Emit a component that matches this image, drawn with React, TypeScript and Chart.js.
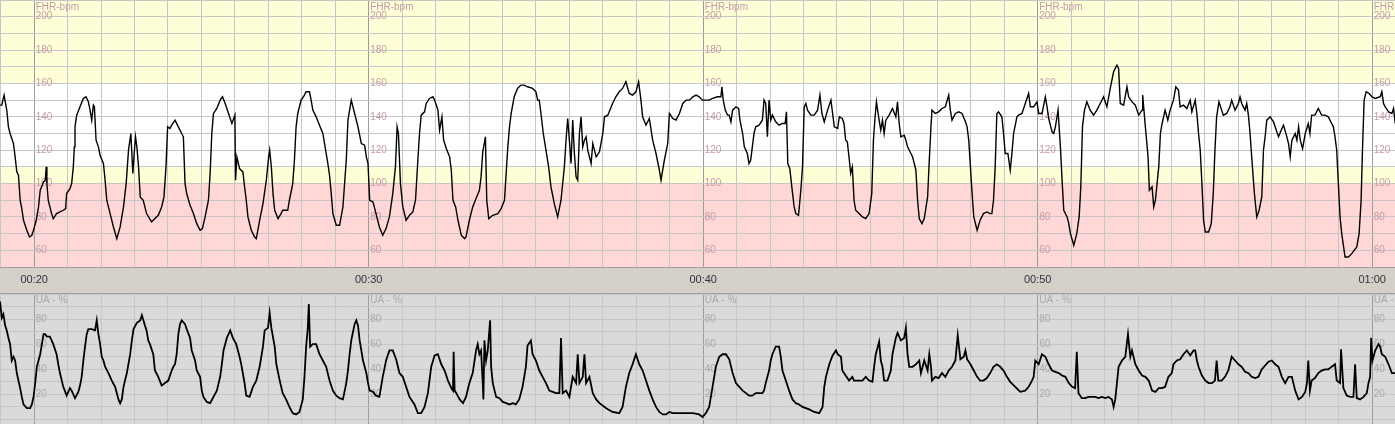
import React, { useEffect, useRef } from 'react';
import { Chart, registerables } from 'chart.js';

Chart.register(...registerables);

// ---- time axis (minutes) ----
const X_MIN = 18.978;
const X_MAX = 60.683;
const MAJOR_TIMES = [20, 30, 40, 50, 60];

// ---- tick labels ----
const FHR_TICKS = [200, 180, 160, 140, 120, 100, 80, 60];
const UA_TICKS = [80, 60, 40, 20];
const FHR_TITLE = 'FHR-bpm';
const UA_TITLE = 'UA - %';

// ---- FHR zones (bpm) ----
const ZONE_FROM = [160, 110, 100, 50];
const ZONE_TO = [210, 160, 110, 100];
const ZONE_COLORS = ['#ffffd7', '#ffffff', '#ffffd7', '#ffd7d7'];

// ---- fetal heart rate: [minute, bpm] ----
const FHR_SAMPLES: [number, number][] = [
  [18.98,147],[19.03,147],[19.10,153],[19.18,144],[19.23,134],[19.28,130],[19.38,124],[19.43,116],[19.48,107],[19.53,105],
  [19.58,90],[19.63,85],[19.68,78],[19.78,72],[19.86,68],[19.93,69],[19.98,72],[20.06,78],[20.13,86],[20.18,96],
  [20.28,101],[20.33,102],[20.36,110],[20.38,100],[20.42,90],[20.52,82],[20.57,79],[20.67,82],[20.77,83],[20.87,84],
  [20.94,85],[20.97,94],[21.07,97],[21.12,100],[21.17,110],[21.20,122],[21.22,134],[21.27,141],[21.37,146],[21.47,151],
  [21.55,152],[21.62,149],[21.67,144],[21.72,138],[21.77,147],[21.80,146],[21.85,126],[21.92,122],[21.97,117],[22.07,112],
  [22.12,102],[22.17,90],[22.27,82],[22.37,74],[22.47,67],[22.57,74],[22.67,86],[22.75,100],[22.82,120],[22.89,130],
  [22.95,106],[22.99,118],[23.03,128],[23.07,122],[23.12,110],[23.17,92],[23.26,90],[23.36,82],[23.51,77],[23.61,79],
  [23.71,81],[23.81,86],[23.88,92],[23.94,110],[23.99,134],[24.06,133],[24.11,135],[24.21,138],[24.31,134],[24.41,130],
  [24.46,128],[24.51,100],[24.56,94],[24.66,87],[24.76,82],[24.86,76],[24.96,72],[25.03,73],[25.11,80],[25.21,90],
  [25.26,106],[25.31,130],[25.36,142],[25.46,145],[25.56,150],[25.63,152],[25.71,148],[25.81,142],[25.91,136],
  [26.00,141],[26.02,102],[26.06,116],[26.14,109],[26.24,107],[26.29,98],[26.34,90],[26.39,80],[26.49,72],[26.59,68],
  [26.64,67],[26.74,78],[26.84,88],[26.94,102],[27.01,116],[27.04,120],[27.09,110],[27.14,94],[27.19,84],[27.29,79],
  [27.38,82],[27.43,84],[27.58,84],[27.63,90],[27.73,100],[27.78,114],[27.83,134],[27.88,142],[27.98,150],[28.08,153],
  [28.13,155],[28.23,155],[28.28,150],[28.33,144],[28.43,140],[28.53,135],[28.63,130],[28.73,118],[28.78,112],[28.83,105],
  [28.88,94],[28.93,82],[29.03,75],[29.13,75],[29.23,86],[29.33,114],[29.38,138],[29.48,150],[29.58,142],[29.68,134],
  [29.78,124],[29.88,123],[29.93,116],[29.98,112],[30.03,90],[30.13,89],[30.22,82],[30.32,74],[30.42,69],[30.52,73],
  [30.62,80],[30.72,94],[30.80,110],[30.85,134],[30.89,130],[30.95,100],[31.02,86],[31.12,78],[31.22,81],[31.32,83],
  [31.40,90],[31.47,114],[31.52,130],[31.57,141],[31.67,143],[31.72,148],[31.82,151],[31.92,152],[31.97,150],[32.07,144],
  [32.12,132],[32.19,140],[32.24,126],[32.32,121],[32.42,116],[32.47,108],[32.52,90],[32.60,86],[32.67,78],[32.77,69],
  [32.87,67],
  [32.91,68],[33.01,78],[33.11,86],[33.21,91],[33.31,96],[33.36,104],[33.41,119],[33.49,128],[33.53,90],[33.59,79],
  [33.71,81],[33.86,82],[33.96,85],[34.06,90],[34.11,106],[34.16,122],[34.21,134],[34.26,142],[34.35,152],[34.45,157],
  [34.55,159],[34.65,159],[34.75,158],[34.90,157],[35.00,155],[35.05,150],[35.10,150],[35.15,142],[35.22,130],[35.30,120],
  [35.38,110],[35.45,98],[35.55,88],[35.65,80],[35.75,90],[35.85,110],[35.90,126],[35.95,139],[36.00,126],[36.05,112],
  [36.10,138],[36.15,118],[36.20,104],[36.25,102],[36.30,130],[36.35,140],[36.40,122],[36.45,126],[36.50,128],[36.55,120],
  [36.65,112],[36.70,124],[36.80,116],[36.90,119],[37.00,130],[37.05,140],[37.15,141],[37.29,148],[37.39,152],[37.49,155],
  [37.59,157],[37.69,161],[37.79,154],[37.89,153],[37.99,155],[38.07,161],[38.14,150],[38.19,140],[38.29,135],[38.39,139],
  [38.49,126],[38.59,118],[38.69,108],[38.74,102],[38.84,114],[38.94,124],[38.99,142],[39.09,139],[39.19,138],[39.29,142],
  [39.39,148],[39.49,150],[39.59,150],[39.69,152],[39.79,153],
  [39.88,152],[39.98,150],[40.08,150],[40.18,150],[40.28,151],[40.43,152],[40.53,152],[40.56,158],[40.60,150],[40.66,144],
  [40.73,141],[40.78,141],[40.83,137],[40.88,144],[40.98,146],[41.06,145],[41.10,138],[41.18,130],[41.23,122],[41.32,118],
  [41.37,112],[41.42,114],[41.47,122],[41.52,130],[41.57,134],[41.67,135],[41.77,138],[41.82,150],[41.87,148],[41.92,128],
  [41.97,150],[42.02,138],[42.07,141],[42.17,137],[42.27,135],[42.37,136],[42.45,136],[42.49,143],[42.53,112],[42.59,109],
  [42.65,98],[42.72,86],[42.77,82],[42.85,81],[42.92,96],[42.97,110],[43.02,146],[43.07,148],[43.12,144],[43.22,141],
  [43.32,141],[43.42,144],[43.49,153],[43.55,142],[43.62,137],[43.72,144],[43.82,150],[43.87,142],[43.92,134],[44.02,133],
  [44.07,140],[44.16,139],[44.21,136],[44.26,126],[44.31,125],[44.36,116],[44.41,106],[44.46,110],[44.51,90],[44.56,84],
  [44.66,82],[44.76,80],[44.86,79],[44.96,82],[45.04,94],[45.09,126],[45.14,140],[45.18,149],[45.26,138],[45.31,132],
  [45.36,138],[45.41,130],[45.46,138],[45.56,141],[45.66,145],[45.76,140],[45.81,149],[45.86,136],[45.91,128],[46.01,129],
  [46.06,126],[46.11,122],[46.21,118],[46.26,116],[46.36,108],[46.41,90],[46.46,79],[46.54,76],[46.61,79],[46.71,92],
  [46.76,114],[46.81,134],
  [46.84,144],[46.94,142],[47.04,143],[47.14,145],[47.24,146],[47.34,153],[47.39,144],[47.44,138],[47.54,142],[47.64,143],
  [47.74,142],[47.84,137],[47.89,134],[47.94,126],[47.99,110],[48.04,94],[48.09,80],[48.19,72],[48.28,78],[48.38,82],
  [48.48,83],[48.58,82],[48.63,82],[48.68,90],[48.73,110],[48.78,142],[48.83,143],[48.93,140],[48.98,130],[49.03,118],
  [49.11,118],[49.18,108],[49.23,118],[49.28,130],[49.38,140],[49.43,141],[49.53,142],[49.63,148],[49.73,154],[49.78,146],
  [49.88,146],[49.98,149],[50.03,142],[50.13,142],[50.23,152],[50.28,146],[50.33,139],[50.43,131],[50.48,130],[50.53,134],
  [50.61,144],[50.68,122],[50.73,102],[50.78,84],[50.88,80],[50.93,76],[50.98,70],[51.08,63],[51.17,70],[51.24,80],
  [51.29,98],[51.34,134],[51.40,144],[51.47,149],[51.57,144],[51.67,141],[51.77,144],[51.87,148],[51.97,152],[52.07,146],
  [52.17,157],[52.27,167],[52.37,171],[52.42,169],[52.47,148],[52.57,147],[52.67,158],[52.72,152],[52.82,149],[52.92,147],
  [53.02,141],[53.12,144],[53.14,153],[53.22,134],[53.30,116],[53.34,96],[53.42,98],[53.47,86],[53.52,90],[53.62,110],
  [53.67,130],[53.72,136],
  [53.81,144],[53.89,138],[53.96,144],[54.06,150],[54.13,158],[54.21,156],[54.26,146],[54.36,147],[54.46,145],[54.56,150],
  [54.61,143],[54.71,150],[54.76,142],[54.81,130],[54.86,120],[54.91,100],[54.96,78],[55.01,71],[55.11,71],[55.19,76],
  [55.25,94],[55.30,120],[55.35,140],[55.42,149],[55.50,144],[55.55,141],[55.65,142],[55.75,146],[55.80,150],[55.90,144],
  [56.00,148],[56.05,152],[56.10,148],[56.20,144],[56.25,148],[56.30,141],[56.35,130],[56.42,110],[56.48,94],[56.55,80],
  [56.62,84],[56.70,92],[56.75,120],[56.80,128],[56.85,138],[56.95,140],[57.05,137],[57.10,134],[57.20,128],[57.28,132],
  [57.35,135],[57.45,128],[57.50,124],[57.55,116],[57.60,126],[57.70,130],[57.75,126],[57.80,134],[57.85,126],[57.92,121],
  [58.00,130],[58.09,136],[58.14,130],[58.19,141],[58.29,141],[58.39,145],[58.49,141],[58.59,141],[58.69,140],[58.79,136],
  [58.84,134],[58.89,128],[58.94,120],[58.99,100],[59.04,80],[59.09,70],[59.19,56],[59.29,56],[59.39,58],[59.54,62],
  [59.61,70],[59.67,90],[59.71,120],[59.76,150],[59.82,155],[59.91,154],[59.99,152],[60.09,151],[60.24,152],[60.29,155],
  [60.34,148],[60.39,146],[60.49,143],[60.59,142],[60.64,145],[60.69,136],
];

// ---- uterine activity: [minute, %] ----
const UA_SAMPLES: [number, number][] = [
  [18.98,94],[19.03,81],[19.08,84],[19.13,75],[19.18,71],[19.23,65],[19.28,60],[19.33,47],[19.38,50],[19.43,47],
  [19.48,37],[19.53,31],[19.58,25],[19.63,18],[19.68,12],[19.78,9],[19.88,9],[19.93,12],[19.98,18],[20.03,29],
  [20.08,42],[20.18,52],[20.23,60],[20.28,68],[20.33,68],[20.38,66],[20.47,66],[20.57,60],[20.67,52],[20.72,44],
  [20.77,37],[20.87,26],[20.97,19],[21.02,22],[21.07,25],[21.12,23],[21.22,17],[21.32,22],[21.37,27],[21.42,34],
  [21.47,47],[21.52,58],[21.57,68],[21.62,72],[21.72,72],[21.82,71],[21.87,79],[21.92,68],[21.97,60],[22.02,50],
  [22.07,47],[22.12,42],[22.22,37],[22.32,31],[22.42,26],[22.52,16],[22.57,13],[22.62,16],[22.67,26],[22.77,37],
  [22.87,52],[22.92,63],[22.97,72],[23.07,77],[23.17,79],[23.22,83],[23.31,75],[23.36,71],[23.41,63],[23.46,60],
  [23.56,52],[23.61,39],[23.71,34],[23.81,27],[23.91,29],[24.01,31],[24.11,39],[24.16,42],[24.21,44],[24.26,52],
  [24.31,68],[24.36,76],[24.41,79],[24.51,76],[24.56,72],[24.66,65],[24.71,55],[24.81,47],[24.86,39],[24.96,34],
  [25.01,23],[25.06,18],[25.16,14],[25.26,13],[25.36,18],[25.46,23],[25.56,34],[25.61,44],[25.66,55],[25.76,65],
  [25.86,71],
  [25.94,65],[26.04,60],[26.14,50],[26.19,44],[26.29,29],[26.34,19],[26.44,18],[26.54,26],[26.64,31],[26.74,42],
  [26.84,58],[26.89,71],[26.99,73],[27.04,85],[27.09,73],[27.19,58],[27.24,44],[27.34,31],[27.43,21],[27.53,16],
  [27.63,10],[27.73,5],[27.83,4],[27.93,6],[28.03,16],[28.08,34],[28.13,58],[28.18,73],[28.21,92],[28.25,58],
  [28.33,60],[28.43,60],[28.53,52],[28.63,47],[28.73,42],[28.83,31],[28.93,23],[29.03,19],[29.13,17],[29.23,16],
  [29.33,29],[29.38,39],[29.43,52],[29.48,63],[29.58,76],[29.63,79],[29.68,75],[29.73,63],[29.83,47],[29.93,37],
  [29.98,29],[30.03,23],[30.13,22],[30.22,19],[30.32,18],[30.42,34],[30.52,47],[30.62,55],[30.72,55],[30.82,48],
  [30.92,37],[31.02,34],[31.12,26],[31.22,18],[31.37,12],[31.47,5],[31.57,5],[31.67,10],[31.77,21],[31.87,42],
  [31.97,51],[32.07,52],[32.17,44],[32.27,39],[32.37,31],[32.47,25],[32.52,23],[32.54,54],[32.57,23],[32.62,21],
  [32.72,16],[32.82,13],
  [32.91,18],[33.01,29],[33.11,37],[33.21,55],[33.26,60],[33.31,52],[33.36,55],[33.41,29],[33.43,16],[33.46,63],
  [33.51,47],[33.56,55],[33.63,79],[33.66,42],[33.71,29],[33.81,18],[33.91,17],[34.01,14],[34.11,13],[34.21,12],
  [34.31,13],[34.40,12],[34.50,16],[34.60,26],[34.70,42],[34.75,59],[34.85,63],[34.90,52],[35.00,47],[35.10,39],
  [35.20,34],[35.30,29],[35.40,23],[35.50,22],[35.60,21],[35.70,21],[35.75,65],[35.80,21],[35.90,23],[36.00,18],
  [36.10,34],[36.20,29],[36.25,52],[36.30,29],[36.40,34],[36.45,52],[36.50,29],[36.60,34],[36.70,21],[36.80,16],
  [36.90,13],[37.10,9],[37.29,6],[37.49,5],[37.59,10],[37.69,26],[37.79,37],[37.89,44],[37.99,52],[38.09,44],
  [38.19,39],[38.29,31],[38.39,23],[38.49,16],[38.59,10],[38.69,6],[38.79,4],[38.89,4],[38.99,6],[39.09,5],
  [39.29,5],[39.49,5],[39.69,5],
  [39.88,4],[39.98,2],[40.08,5],[40.18,10],[40.28,26],[40.38,42],[40.48,50],[40.58,52],[40.68,52],[40.78,48],
  [40.88,37],[40.98,29],[41.08,26],[41.18,23],[41.28,21],[41.37,19],[41.47,19],[41.57,21],[41.67,21],[41.77,21],
  [41.82,23],[41.87,29],[41.97,39],[42.02,47],[42.07,52],[42.17,58],[42.27,58],[42.32,50],[42.37,39],[42.47,31],
  [42.57,23],[42.67,16],[42.77,13],[42.87,12],[42.97,10],[43.07,9],[43.17,8],[43.32,6],[43.47,5],[43.57,10],
  [43.62,26],[43.67,34],[43.77,44],[43.87,51],[43.97,55],[44.02,52],[44.12,50],[44.16,39],[44.26,35],[44.36,31],
  [44.46,34],[44.51,31],[44.61,31],[44.76,31],[44.86,34],[44.96,31],[45.06,30],[45.11,42],[45.16,52],[45.26,62],
  [45.31,47],[45.36,42],[45.41,31],[45.51,31],[45.61,39],[45.66,52],[45.76,65],[45.81,69],[45.91,63],[46.01,65],
  [46.06,73],[46.11,52],[46.16,42],[46.26,42],[46.36,44],[46.46,47],[46.51,37],[46.61,47],[46.71,39],[46.76,52],
  [46.81,42],
  [46.84,31],[46.94,34],[47.04,33],[47.14,37],[47.24,34],[47.34,39],[47.44,42],[47.54,47],[47.61,67],[47.69,48],
  [47.79,50],[47.84,55],[47.89,48],[47.99,44],[48.09,39],[48.19,34],[48.28,31],[48.38,31],[48.48,33],[48.58,37],
  [48.68,42],[48.78,44],[48.88,42],[48.98,39],[49.08,34],[49.18,30],[49.33,26],[49.48,22],[49.63,23],[49.73,26],
  [49.83,31],[49.88,34],[49.93,47],[50.03,44],[50.13,52],[50.23,50],[50.33,44],[50.43,39],[50.53,38],[50.63,37],
  [50.73,35],[50.83,34],[50.93,29],[51.03,26],[51.12,25],[51.17,54],[51.22,21],[51.32,17],[51.42,17],[51.52,18],
  [51.62,18],[51.72,18],[51.82,17],[51.92,18],[52.02,17],[52.12,18],[52.22,16],[52.27,10],[52.32,16],[52.37,29],
  [52.42,42],[52.52,47],[52.62,50],[52.70,68],[52.77,50],[52.82,55],[52.92,44],[53.02,39],[53.12,35],[53.22,34],
  [53.32,31],[53.42,23],[53.52,22],[53.62,25],[53.72,25],
  [53.81,26],[53.91,34],[54.01,37],[54.06,44],[54.16,47],[54.26,48],[54.36,52],[54.46,55],[54.56,51],[54.66,55],
  [54.71,55],[54.76,47],[54.81,42],[54.91,35],[55.01,31],[55.11,29],[55.21,29],[55.30,31],[55.35,47],[55.40,31],
  [55.50,31],[55.60,34],[55.70,39],[55.80,50],[55.90,47],[56.00,44],[56.10,42],[56.20,38],[56.30,37],[56.40,34],
  [56.50,33],[56.60,34],[56.70,40],[56.80,43],[56.90,46],[57.00,47],[57.10,44],[57.20,42],[57.30,34],[57.40,29],
  [57.50,34],[57.60,34],[57.70,23],[57.80,16],[57.90,18],[58.00,22],[58.05,29],[58.09,47],[58.14,23],[58.19,31],
  [58.29,33],[58.39,37],[58.49,39],[58.59,40],[58.69,40],[58.79,42],[58.89,44],[58.94,31],[59.04,29],[59.07,56],
  [59.14,25],[59.24,19],[59.34,18],[59.44,18],[59.49,44],[59.54,17],[59.64,16],[59.74,18],[59.84,21],[59.89,29],
  [59.94,34],[59.97,65],[60.01,47],[60.09,55],[60.19,60],[60.24,58],[60.29,52],[60.39,50],[60.49,44],[60.59,37],
  [60.69,37],
];

const FONT = '"Liberation Sans", Arial, sans-serif';
const isMajor = (v: number) => Math.abs(v - Math.round(v / 10) * 10) < 1e-6;
const pad2 = (n: number) => (n < 10 ? '0' : '') + n;
const fmtTime = (v: number) => {
  const t = Math.round(v);
  return pad2(Math.floor(t / 60)) + ':' + pad2(t % 60);
};

const xScale = (showLabels: boolean, height: number) => ({
  type: 'linear' as const,
  min: X_MIN,
  max: X_MAX,
  position: 'bottom' as const,
  afterFit: (s: any) => {
    s.height = height;
    s.paddingLeft = 0;
    s.paddingRight = 0;
    s.paddingTop = 0;
    s.paddingBottom = 0;
  },
  border: { display: false },
  grid: {
    drawTicks: false,
    lineWidth: 1,
    color: (ctx: any) => (ctx.tick && isMajor(ctx.tick.value) ? '#9c9c9c' : '#c6c6c6'),
  },
  ticks: {
    display: showLabels,
    stepSize: 1,
    maxTicksLimit: 1000,
    includeBounds: false,
    autoSkip: false,
    maxRotation: 0,
    padding: 6,
    color: '#2c3440',
    font: { family: FONT, size: 11 },
    callback: (value: any) => (isMajor(Number(value)) ? fmtTime(Number(value)) : ''),
  },
});

const yScale = (min: number, max: number, darkValue: number | null) => ({
  type: 'linear' as const,
  min,
  max,
  position: 'left' as const,
  afterFit: (s: any) => {
    s.width = 0;
    s.paddingLeft = 0;
    s.paddingRight = 0;
    s.paddingTop = 0;
    s.paddingBottom = 0;
  },
  border: { display: false },
  grid: {
    drawTicks: false,
    lineWidth: 1,
    color: (ctx: any) => (ctx.tick && darkValue !== null && ctx.tick.value === darkValue ? '#a0a0a0' : '#c6c6c6'),
  },
  ticks: { display: false, stepSize: 10, maxTicksLimit: 1000, includeBounds: false },
});

const fhrPlugin = {
  id: 'fhrDecor',
  beforeDraw(chart: any) {
    const { ctx, chartArea: a, scales } = chart;
    const y = scales.y;
    ctx.save();
    for (let i = 0; i < ZONE_FROM.length; i++) {
      const top = y.getPixelForValue(ZONE_TO[i]);
      const bot = y.getPixelForValue(ZONE_FROM[i]);
      ctx.fillStyle = ZONE_COLORS[i];
      ctx.fillRect(a.left, top, a.right - a.left, bot - top);
    }
    ctx.fillStyle = '#d4d0c8';
    ctx.fillRect(0, a.bottom, chart.width, chart.height - a.bottom);
    ctx.restore();
  },
  beforeDatasetsDraw(chart: any) {
    const { ctx, scales } = chart;
    ctx.save();
    ctx.font = '10px ' + FONT;
    ctx.fillStyle = '#c49cac';
    ctx.textAlign = 'left';
    for (const t of MAJOR_TIMES) {
      const x = scales.x.getPixelForValue(t) + 1.5;
      ctx.textBaseline = 'top';
      ctx.fillText(FHR_TITLE, x, 2.5);
      ctx.textBaseline = 'middle';
      for (const v of FHR_TICKS) ctx.fillText(String(v), x, scales.y.getPixelForValue(v));
    }
    ctx.restore();
  },
  afterDraw(chart: any) {
    const { ctx } = chart;
    ctx.save();
    ctx.strokeStyle = '#a0a0a0';
    ctx.lineWidth = 1;
    ctx.beginPath();
    ctx.moveTo(0, chart.height - 0.5);
    ctx.lineTo(chart.width, chart.height - 0.5);
    ctx.stroke();
    ctx.restore();
  },
};

const uaPlugin = {
  id: 'uaDecor',
  beforeDraw(chart: any) {
    const { ctx } = chart;
    ctx.save();
    ctx.fillStyle = '#dadada';
    ctx.fillRect(0, 0, chart.width, chart.height);
    ctx.restore();
  },
  beforeDatasetsDraw(chart: any) {
    const { ctx, scales } = chart;
    ctx.save();
    ctx.font = '10px ' + FONT;
    ctx.fillStyle = '#a9a9a9';
    ctx.textAlign = 'left';
    for (const t of MAJOR_TIMES) {
      const x = scales.x.getPixelForValue(t) + 1.5;
      ctx.textBaseline = 'top';
      ctx.fillText(UA_TITLE, x, 1.5);
      ctx.textBaseline = 'middle';
      for (const v of UA_TICKS) ctx.fillText(String(v), x, scales.y.getPixelForValue(v));
    }
    ctx.restore();
  },
};

const lineDataset = (samples: [number, number][], width: number) => ({
  data: samples.map(([t, v]) => ({ x: t, y: v })),
  borderColor: '#000000',
  borderWidth: width,
  pointRadius: 0,
  fill: false,
  tension: 0,
});

const baseOptions = {
  responsive: false,
  animation: false as const,
  devicePixelRatio: 1,
  events: [] as any[],
  layout: { padding: 0 },
  plugins: { legend: { display: false }, tooltip: { enabled: false } },
};

export default function App() {
  const fhrRef = useRef<HTMLCanvasElement>(null);
  const uaRef = useRef<HTMLCanvasElement>(null);

  useEffect(() => {
    Chart.defaults.font.family = FONT;
    const c1 = new Chart(fhrRef.current as HTMLCanvasElement, {
      type: 'line',
      data: { datasets: [lineDataset(FHR_SAMPLES, 1.4)] },
      options: {
        ...baseOptions,
        scales: { x: xScale(true, 27), y: yScale(50, 210, 50) },
      } as any,
      plugins: [fhrPlugin],
    });
    const c2 = new Chart(uaRef.current as HTMLCanvasElement, {
      type: 'line',
      data: { datasets: [lineDataset(UA_SAMPLES, 1.8)] },
      options: {
        ...baseOptions,
        scales: { x: xScale(false, 0), y: yScale(-3.6, 100, null) },
      } as any,
      plugins: [uaPlugin],
    });
    return () => {
      c1.destroy();
      c2.destroy();
    };
  }, []);

  return (
    <div style={{ position: 'absolute', left: 0, top: 0, width: 1395, height: 424, overflow: 'hidden', background: '#dadada' }}>
      <canvas ref={fhrRef} width={1395} height={294} style={{ position: 'absolute', left: 0, top: 0, display: 'block' }} />
      <canvas ref={uaRef} width={1395} height={130} style={{ position: 'absolute', left: 0, top: 294, display: 'block' }} />
    </div>
  );
}
